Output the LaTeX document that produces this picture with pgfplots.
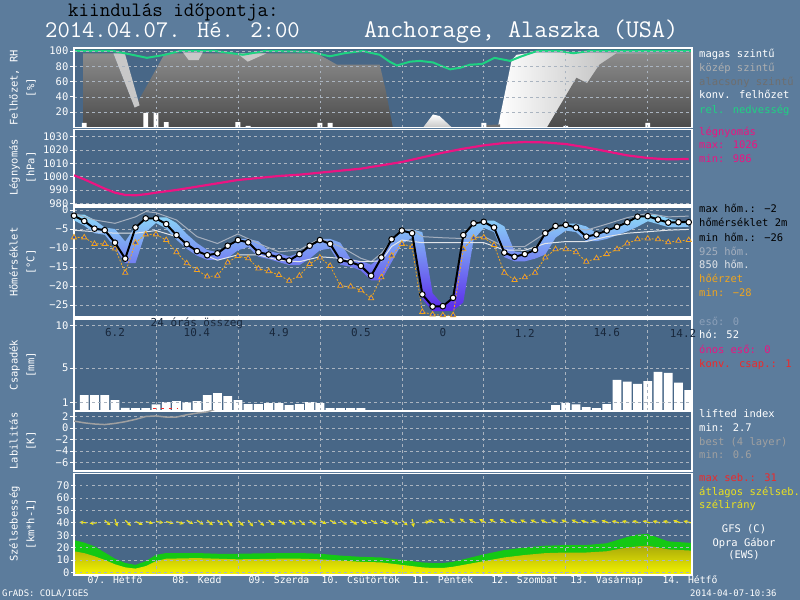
\documentclass[border=0pt]{standalone}
\usepackage{pgfplots}
\pgfplotsset{compat=1.18}
\usepackage{pgfplotstable}
\usetikzlibrary{arrows.meta}
\usepackage{fontspec}
\newfontfamily\legf{DejaVu Sans Mono}
\newcommand{\lfn}{\legf\fontsize{10.5}{12}\selectfont}
\newcommand{\lfd}{\legf\fontsize{9.8}{12}\selectfont}
\newcommand{\lfp}{\legf\fontsize{11}{12}\selectfont}
\newcommand{\lfl}{\legf\fontsize{10.5}{17}\selectfont}
\newcommand{\lfs}{\legf\fontsize{9}{10}\selectfont}
\definecolor{outerbg}{RGB}{92,124,156}
\definecolor{panelbg}{RGB}{72,103,135}
\definecolor{gridc}{RGB}{170,180,192}
\definecolor{rhgreen}{RGB}{30,210,130}
\definecolor{pmag}{RGB}{235,20,130}
\definecolor{c925}{RGB}{165,175,190}
\definecolor{c850}{RGB}{225,228,232}
\definecolor{orng}{RGB}{240,165,30}
\definecolor{triblue}{RGB}{40,80,200}
\definecolor{tb1}{RGB}{140,215,248}
\definecolor{tb2}{RGB}{30,140,240}
\definecolor{tb3}{RGB}{90,40,235}
\definecolor{midgray}{RGB}{175,175,175}
\definecolor{lowgray}{RGB}{110,110,110}
\definecolor{bestgray}{RGB}{160,160,160}
\definecolor{redc}{RGB}{240,40,40}
\definecolor{yel}{RGB}{235,225,30}
\definecolor{wgreen}{RGB}{20,200,20}
\definecolor{wyeltop}{RGB}{170,170,10}
\definecolor{wyelbot}{RGB}{245,245,0}
\definecolor{darknum}{RGB}{25,40,60}
\definecolor{ctop}{RGB}{140,140,140}
\definecolor{cbot}{RGB}{75,75,75}
\definecolor{light1}{RGB}{200,200,200}
\definecolor{rgray}{RGB}{150,150,150}
\definecolor{eso}{RGB}{140,160,185}

\pgfplotstableread{
d T O
7.000 -1.5 -7.2
7.125 -2.9 -7.2
7.250 -4.9 -8.9
7.375 -5.3 -8.9
7.500 -8.6 -10.1
7.625 -12.8 -16.5
7.750 -4.6 -8.6
7.875 -2.2 -6.4
8.000 -2.2 -6.4
8.125 -3.7 -7.9
8.250 -6.6 -11.1
8.375 -9.0 -14.0
8.500 -10.8 -15.8
8.625 -11.9 -17.5
8.750 -11.4 -17.3
8.875 -9.4 -13.8
9.000 -7.9 -12.1
9.125 -8.5 -12.7
9.250 -11.1 -15.4
9.375 -11.7 -16.1
9.500 -12.5 -17.1
9.625 -13.3 -18.6
9.750 -11.6 -17.3
9.875 -9.4 -14.2
10.000 -7.9 -12.5
10.125 -8.9 -14.7
10.250 -13.2 -19.9
10.375 -13.7 -20.1
10.500 -14.7 -21.1
10.625 -17.3 -23.2
10.750 -12.5 -17.7
10.875 -7.7 -12.0
11.000 -5.4 -8.9
11.125 -6.1 -9.7
11.250 -22.2 -26.8
11.375 -25.4 -27.5
11.500 -25.3 -27.7
11.625 -23.1 -27.7
11.750 -6.6 -10.3
11.875 -3.5 -7.3
12.000 -3.1 -7.2
12.125 -4.6 -9.2
12.250 -11.2 -16.5
12.375 -12.3 -18.4
12.500 -11.6 -17.7
12.625 -10.5 -16.5
12.750 -6.1 -12.5
12.875 -4.2 -10.3
13.000 -3.9 -10.3
13.125 -4.6 -11.1
13.250 -7.0 -13.6
13.375 -6.4 -12.7
13.500 -5.4 -11.6
13.625 -4.4 -10.3
13.750 -3.2 -8.8
13.875 -1.75 -7.7
14.000 -1.6 -7.5
14.125 -2.5 -7.7
14.250 -3.3 -8.5
14.375 -3.2 -8.1
14.500 -3.2 -7.9
}\tempdata

\pgfplotstableread{
d b
7.000 -1.2
7.125 -1.2
7.250 -2.6
7.375 -4.6
7.500 -5.0
7.625 -8.3
7.750 -4.3
7.875 -1.9
8.000 -1.9
8.125 -1.9
8.250 -3.4
8.375 -6.3
8.500 -8.7
8.625 -10.5
8.750 -11.1
8.875 -9.1
9.000 -7.6
9.125 -7.6
9.250 -8.2
9.375 -10.8
9.500 -11.4
9.625 -12.2
9.750 -11.3
9.875 -9.1
10.000 -7.6
10.125 -7.6
10.250 -8.6
10.375 -12.9
10.500 -13.4
10.625 -14.4
10.750 -12.2
10.875 -7.4
11.000 -5.1
11.125 -5.1
11.250 -5.8
11.375 -21.9
11.500 -25.0
11.625 -22.8
11.750 -6.3
11.875 -3.2
12.000 -2.8
12.125 -2.8
12.250 -4.3
12.375 -10.9
12.500 -11.3
12.625 -10.2
12.750 -5.8
12.875 -3.9
13.000 -3.6
13.125 -3.6
13.250 -4.3
13.375 -6.1
13.500 -5.1
13.625 -4.1
13.750 -2.9
13.875 -1.45
14.000 -1.3
14.125 -1.3
14.250 -2.2
14.375 -2.9
14.500 -2.9
14.500 -4.4
14.375 -4.5
14.250 -4.5
14.125 -3.7
14.000 -2.95
13.875 -4.4
13.750 -5.6
13.625 -6.6
13.500 -7.6
13.375 -8.2
13.250 -8.2
13.125 -5.8
13.000 -5.4
12.875 -7.3
12.750 -11.7
12.625 -12.8
12.500 -13.5
12.375 -13.5
12.250 -12.4
12.125 -5.8
12.000 -4.7
11.875 -7.8
11.750 -24.3
11.625 -26.5
11.500 -26.6
11.375 -26.6
11.250 -23.4
11.125 -7.3
11.000 -8.9
10.875 -13.7
10.750 -18.5
10.625 -18.5
10.500 -15.9
10.375 -14.9
10.250 -14.4
10.125 -10.1
10.000 -10.6
9.875 -12.8
9.750 -14.5
9.625 -14.5
9.500 -13.7
9.375 -12.9
9.250 -12.3
9.125 -9.7
9.000 -10.6
8.875 -12.6
8.750 -13.1
8.625 -13.1
8.500 -12.0
8.375 -10.2
8.250 -7.8
8.125 -4.9
8.000 -3.4
7.875 -5.8
7.750 -14.0
7.625 -14.0
7.500 -9.8
7.375 -6.5
7.250 -6.1
7.125 -4.1
7.000 -2.7
}\band

\pgfplotstableread{
d t
7.000 -0.9
7.250 -2.6
7.500 -3.5
7.750 -1.8
7.875 -0.4
8.000 -0.7
8.250 -2.6
8.500 -7.0
8.750 -8.8
9.000 -6.3
9.250 -8.8
9.500 -11.0
9.750 -10.5
10.000 -7.5
10.250 -9.6
10.500 -12.7
10.625 -13.6
10.750 -11.4
10.875 -7.9
11.000 -5.3
11.125 -5.1
11.250 -7.0
11.500 -7.3
11.750 -7.5
12.000 -7.0
12.250 -9.6
12.500 -9.6
12.750 -6.1
13.000 -4.0
13.250 -5.3
13.500 -3.7
13.750 -2.0
14.000 -0.9
14.250 -1.8
14.500 -1.6
}\tnk

\pgfplotstableread{
d t
7.000 -5.3
7.250 -5.7
7.500 -6.1
7.750 -6.1
8.000 -5.4
8.250 -7.0
8.500 -11.0
8.750 -13.2
9.000 -11.8
9.250 -11.8
9.500 -13.2
9.750 -13.6
10.000 -12.3
10.250 -12.7
10.500 -13.6
10.750 -13.4
10.875 -9.6
11.000 -7.9
11.250 -8.6
11.500 -8.6
11.750 -8.6
12.000 -8.6
12.250 -10.5
12.500 -10.6
12.750 -8.8
13.000 -8.3
13.250 -8.3
13.500 -7.0
13.750 -6.1
14.000 -5.7
14.250 -5.3
14.500 -5.1
}\tnf

\pgfplotstableread{
d p
7.000 1001
7.125 998
7.250 994.5
7.375 991
7.500 988
7.625 986.3
7.750 986
7.875 986.8
8.000 988
8.250 990
8.500 992.5
8.750 995
9.000 997.5
9.250 999
9.500 1000.5
9.750 1001.5
10.000 1003
10.250 1004.5
10.500 1006
10.750 1008.5
11.000 1011
11.250 1014.5
11.500 1018
11.750 1021
12.000 1023.5
12.250 1025.3
12.500 1026
12.750 1025.7
13.000 1024.5
13.250 1022
13.500 1019
13.750 1016
14.000 1014
14.250 1013
14.500 1013.3
}\pres

\pgfplotstableread{
d r
7.00 100
7.48 100
7.62 97
7.89 91
8.11 95
8.29 100
8.72 100
9.06 95
9.33 100
9.88 99
10.12 93
10.30 97
10.52 100
10.73 95
10.85 86
10.94 81
11.10 86
11.22 87
11.38 85
11.49 80
11.59 76
11.71 78
11.83 82
11.98 83
12.13 91
12.32 87
12.46 93
12.65 100
12.93 100
13.09 97
13.29 100
14.54 100
}\rh

\pgfplotstableread{
d v
7.125 1.86
7.250 1.86
7.375 1.86
7.500 1.27
7.625 0.37
7.750 0.33
7.875 0.33
8.000 0.76
8.125 1.04
8.250 1.16
8.375 1.04
8.500 1.16
8.625 1.86
8.750 2.10
8.875 1.75
9.000 1.27
9.125 0.80
9.250 0.80
9.375 0.92
9.500 0.92
9.625 0.69
9.750 0.80
9.875 1.04
10.000 0.92
10.125 0.33
10.250 0.33
10.375 0.33
10.500 0.33
12.875 0.69
13.000 0.92
13.125 0.76
13.250 0.45
13.375 0.33
13.500 0.80
13.625 3.63
13.750 3.43
13.875 3.16
14.000 3.50
14.125 4.57
14.250 4.45
14.375 3.31
14.500 2.45
}\prec

\pgfplotstableread{
d w
7.000 -2
7.000 26
7.125 24
7.250 21
7.375 16
7.500 11
7.625 7.5
7.750 6
7.875 9
8.000 14
8.125 15.6
8.500 15.6
8.750 15
9.000 15
9.500 15.6
9.750 15.6
10.000 15
10.250 13.5
10.500 12.5
10.750 12
11.000 10
11.250 8
11.375 7.5
11.500 7.5
11.625 8.5
11.750 10.5
12.000 14.5
12.250 18
12.500 20
12.750 21.5
13.000 22
13.250 22
13.500 23.5
13.750 28.5
13.875 30.5
14.000 31
14.125 28
14.250 25
14.540 23.7
14.540 -2
}\gust

\pgfplotstableread{
d w
7.000 -2
7.000 17
7.125 15.5
7.250 13
7.375 10
7.500 6.5
7.625 4
7.750 3
7.875 5
8.000 9
8.125 11
8.500 11.5
8.750 11
9.000 10.5
9.500 11
9.750 11
10.000 10.5
10.250 9.5
10.500 8.5
10.750 8
11.000 6
11.250 4
11.375 3.5
11.500 3.5
11.625 4.5
11.750 6
12.000 9
12.250 12
12.500 14
12.750 15.5
13.000 16
13.250 16
13.500 17
13.750 20
13.875 21
14.000 21.5
14.125 20
14.250 18.5
14.540 17.5
14.540 -2
}\avgw

\pgfplotstableread{
d y u v
7.030 40 -0.09 0.0
7.155 40 -0.09 0.5
7.280 40 -0.09 -0.5
7.375 42 0.07 -4.0
7.500 43 0.03 -6.0
7.625 42 0.07 -4.5
7.750 41 0.09 -2.5
7.875 41 0.09 -1.5
8.000 41 0.09 -1.0
8.125 41 0.09 -1.5
8.250 41 0.09 -2.0
8.375 42 0.08 -3.0
8.500 42 0.08 -3.5
8.625 42 0.07 -4.0
8.750 42 0.07 -4.0
8.875 42 0.06 -5.0
9.000 42 0.07 -4.5
9.125 42 0.06 -5.0
9.250 42 0.07 -4.5
9.375 42 0.07 -4.0
9.500 42 0.08 -3.5
9.625 42 0.08 -3.5
9.750 42 0.07 -4.0
9.875 42 0.08 -3.5
10.000 42 0.08 -3.0
10.125 42 0.08 -3.0
10.250 42 0.08 -3.5
10.375 42 0.08 -3.5
10.500 42 0.08 -3.0
10.625 42 0.08 -3.0
10.750 42 0.08 -3.0
10.875 42 0.08 -3.5
11.000 42 0.07 -4.0
11.125 43 0.02 -6.5
11.250 40 0.09 1.0
11.400 40 -0.08 2.5
11.525 40 -0.08 3.0
11.650 40 -0.07 3.5
11.775 40 -0.07 3.5
11.900 40 -0.08 3.0
12.025 40 -0.08 3.0
12.150 40 -0.08 3.0
12.275 40 -0.08 3.0
12.400 40 -0.08 2.5
12.525 40 -0.08 2.5
12.650 40 -0.08 2.5
12.775 40 -0.08 2.5
12.900 40 -0.08 2.5
13.025 40 -0.08 2.5
13.150 40 -0.08 2.5
13.275 40 -0.09 2.0
13.400 40 -0.09 2.0
13.525 40 -0.09 2.0
13.650 40 -0.09 1.5
13.775 40 -0.09 1.5
13.900 40 -0.09 1.5
14.025 40 -0.09 1.5
14.150 40 -0.09 1.5
14.275 40 -0.09 1.5
14.400 40 -0.09 2.0
14.525 40 -0.09 1.5
}\wdir

\pgfplotsset{
 met/.style={
  scale only axis, width=618bp, xmin=7, xmax=14.54, anchor=south west,
  axis background/.style={fill=panelbg},
  axis line style={white, line width=1.6bp},
  xtick={8,...,14}, xticklabels={},
  grid=major,
  major grid style={gridc, dash pattern=on 2.5bp off 3.5bp, line width=0.7bp},
  tick align=outside, tick pos=left, major tick length=4bp,
  xtick style={draw=none},
  ytick style={white, line width=0.8bp},
  yticklabel style={font=\lfn, text=white, inner sep=1.5bp},
  ylabel style={font=\lfl, text=white, align=center, at={(axis description cs:-0.0833,0.5)}, anchor=center},
  clip mode=individual,
 }
}

\begin{document}
\begin{tikzpicture}
\fill[outerbg] (0,0) rectangle (800bp,600bp);
\useasboundingbox (0,0) rectangle (800bp,600bp);

% Panel 1: clouds and RH
\begin{axis}[met, axis on top, at={(74bp,472.5bp)}, height=79.6bp, ymin=0, ymax=104,
 ytick={20,40,60,80,100}, yticklabels={20,40,60,80,100}, ylabel={Felhőzet, RH\\{[\%]}}]
\addplot[draw=none, top color=ctop, bottom color=cbot] coordinates {(7.11,0)(7.11,97)(7.48,97)(7.74,26)(8.11,97)(9.96,97)(10.21,82)(10.73,82)(10.80,50)(10.89,0)} --cycle;
\addplot[draw=none, fill=light1] coordinates {(7.48,97)(7.62,97)(7.80,29)(7.74,26)} --cycle;
\addplot[draw=none, fill=light1] coordinates {(8.33,98)(8.40,88)(8.52,88)(8.57,98)} --cycle;
\addplot[draw=none, fill=light1] coordinates {(8.99,97)(9.12,86)(9.35,97)} --cycle;
\addplot[draw=none, left color=white, right color=rgray] coordinates {(12.17,0)(12.34,88)(12.40,95)(12.60,98)(14.54,98)(14.54,0)} --cycle;
\addplot[draw=none, top color=ctop, bottom color=cbot] coordinates {(12.77,0)(13.13,65)(13.26,58)(13.41,82)(13.62,97)(14.54,97)(14.54,0)} --cycle;
\addplot[draw=none, top color=white, bottom color=light1] coordinates {(11.26,0)(11.38,17)(11.46,15)(11.61,0)} --cycle;
\addplot[draw=none, fill=lowgray] coordinates {(11.98,0)(11.98,3)(12.20,4)(12.20,0)} --cycle;
\addplot[ybar, bar width=0.06, bar shift=0pt, fill=white, draw=none] coordinates {(7.125,6)(7.875,19)(8.0,19)(8.125,7)(9.0,7)(9.125,2)(10.0,6)(10.125,6)(12.0,6)(13.0,2)(14.0,6)};
\addplot[rhgreen, line width=2bp] table[x=d,y=r] \rh;
\end{axis}

% Panel 2: pressure
\begin{axis}[met, at={(74bp,394.7bp)}, height=75.9bp, ymin=978.5, ymax=1035.5,
 ytick={980,990,...,1030}, yticklabels={980,990,1000,1010,1020,1030}, ylabel={Légnyomás\\{[hPa]}}]
\addplot[pmag, line width=2.2bp] table[x=d,y=p] \pres;
\end{axis}

% Panel 3: temperature
\begin{axis}[met, at={(74bp,282.8bp)}, height=110.2bp, ymin=-28.2, ymax=0.8,
 ytick={-25,-20,...,0}, yticklabels={−25,−20,−15,−10,−5,0}, ylabel={Hőmérséklet\\{[°C]}}]
\addplot[draw=none, top color=tb1, middle color=tb2, bottom color=tb3] table[x=d,y=b] \band --cycle;
\addplot[c925, line width=1bp] table[x=d,y=t] \tnk;
\addplot[c850, line width=1bp] table[x=d,y=t] \tnf;
\addplot[orng, line width=0.8bp, dash pattern=on 2bp off 1.5bp, mark=triangle*, mark size=3bp, mark options={solid, fill=triblue, draw=orng, line width=0.8bp}] table[x=d,y=O] \tempdata;
\addplot[black, line width=2bp, mark=*, mark size=2.8bp, mark options={fill=white, draw=black, line width=1bp}] table[x=d,y=T] \tempdata;
\end{axis}

% Panel 4: precipitation
\begin{axis}[met, axis on top, at={(74bp,189bp)}, height=92bp, ymin=0, ymax=10.76,
 ytick={1,5,10}, yticklabels={1,5,10}, ylabel={Csapadék\\{[mm]}}]
\addplot[ybar, bar width=0.108, bar shift=0pt, fill=white, draw=none] table[x=d,y=v] \prec;
\addplot[redc, line width=1.5bp, dash pattern=on 3bp off 5bp] coordinates {(7.96,0.3)(8.27,0.3)};
\end{axis}
% 24-hour sums (text drawn above the grid)
\begin{scope}[every node/.style={font=\lfp, text=darknum, inner sep=0}]
\node at (196.9bp,276.5bp) {24 órás összeg};
\node at (115bp,267bp) {6.2};
\node at (196.9bp,267bp) {10.4};
\node at (278.9bp,267bp) {4.9};
\node at (360.9bp,267bp) {0.5};
\node at (442.8bp,267bp) {0};
\node at (524.8bp,267bp) {1.2};
\node at (606.7bp,267bp) {14.6};
\node at (683bp,267bp) {14.2};
\end{scope}

% Panel 5: stability
\begin{axis}[met, at={(74bp,129bp)}, height=60bp, ymin=-7.48, ymax=2.96,
 ytick={-6,-4,-2,0,2}, yticklabels={−6,−4,−2,0,2}, ylabel={Labilitás\\{[K]}}]
\addplot[bestgray, line width=1.5bp] coordinates {(7.000,1.2)(7.125,0.9)(7.250,0.7)(7.375,0.6)(7.500,0.8)(7.625,1.1)(7.750,1.5)(7.875,2.0)(8.000,2.1)(8.125,1.9)(8.250,1.9)(8.375,2.3)(8.500,2.6)(8.625,2.8)(8.750,3.4)};
\end{axis}

% Panel 6: wind
\begin{axis}[met, axis on top, at={(74bp,25.2bp)}, height=101.5bp, ymin=-2, ymax=80,
 ytick={0,10,...,70}, yticklabels={0,10,20,30,40,50,60,70}, ylabel={Szélsebesség\\{[km*h-1]}},
 xtick style={gridc, line width=0.8bp}, major tick length=3bp]
\addplot[draw=none, fill=wgreen] table[x=d,y=w] \gust --cycle;
\addplot[draw=none, top color=wyeltop, bottom color=wyelbot] table[x=d,y=w] \avgw --cycle;
\addplot[yel, line width=1.2bp, quiver={u=\thisrow{u}, v=\thisrow{v}}, -{Stealth[length=4bp,width=4bp]}] table[x=d,y=y] \wdir;
\end{axis}
% day labels
\begin{scope}[every node/.style={font=\lfd, text=white, inner sep=0, anchor=base}]
\node at (115bp,17bp) {07. Hétfő};
\node at (196.9bp,17bp) {08. Kedd};
\node at (278.9bp,17bp) {09. Szerda};
\node at (360.9bp,17bp) {10. Csütörtök};
\node at (442.8bp,17bp) {11. Péntek};
\node at (524.8bp,17bp) {12. Szombat};
\node at (606.7bp,17bp) {13. Vasárnap};
\node at (690bp,17bp) {14. Hétfő};
\end{scope}

% Titles
\node[anchor=base west, inner sep=0, text=black, font=\ttfamily\fontsize{20.5}{24}\selectfont] at (68bp,583.5bp) {kiindulás időpontja:};
\node[anchor=base west, inner sep=0, text=white, font=\ttfamily\fontsize{24}{26}\selectfont] at (45bp,562.5bp) {2014.04.07. Hé. 2:00};
\node[anchor=base west, inner sep=0, text=white, font=\ttfamily\fontsize{25.5}{27}\selectfont] at (364bp,562.5bp) {Anchorage, Alaszka (USA)};

% Legend
\begin{scope}[every node/.style={anchor=west, inner sep=0, font=\lfn, text height=7.5bp, text depth=2bp}]
\node[text=white] at (699bp,545bp) {magas szintű};
\node[text=midgray] at (699bp,531bp) {közép szintű};
\node[text=lowgray] at (699bp,517.3bp) {alacsony szintű};
\node[text=white] at (699bp,504bp) {konv. felhőzet};
\node[text=rhgreen] at (699bp,489.3bp) {rel. nedvesség};
\node[text=pmag] at (699bp,467.7bp) {légnyomás};
\node[text=pmag] at (699bp,454bp) {max: 1026};
\node[text=pmag] at (699bp,440bp) {min: 986};
\node[text=black] at (699bp,390bp) {max hőm.: −2};
\node[text=black] at (699bp,376bp) {hőmérséklet 2m};
\node[text=black] at (699bp,361.7bp) {min hőm.: −26};
\node[text=c925] at (699bp,347.7bp) {925 hőm.};
\node[text=c850] at (699bp,334bp) {850 hőm.};
\node[text=orng] at (699bp,320bp) {hőérzet};
\node[text=orng] at (699bp,306bp) {min: −28};
\node[text=eso] at (699bp,277.3bp) {eső: 0};
\node[text=white] at (699bp,264bp) {hó: 52};
\node[text=pmag] at (699bp,249.3bp) {ónos eső: 0};
\node[text=redc] at (699bp,235.7bp) {konv. csap.: 1};
\node[text=white] at (699bp,185bp) {lifted index};
\node[text=white] at (699bp,171bp) {min: 2.7};
\node[text=bestgray] at (699bp,157.7bp) {best (4 layer)};
\node[text=bestgray] at (699bp,144bp) {min: 0.6};
\node[text=redc] at (699bp,121.7bp) {max seb.: 31};
\node[text=yel] at (699bp,107.7bp) {átlagos szélseb.};
\node[text=yel] at (699bp,94bp) {szélirány};
\end{scope}
\begin{scope}[every node/.style={anchor=center, inner sep=0, font=\lfn, text=white, text height=7.5bp, text depth=2bp}]
\node at (744bp,70bp) {GFS (C)};
\node at (744bp,56bp) {Opra Gábor};
\node at (744bp,44.3bp) {(EWS)};
\end{scope}
\node[anchor=west, inner sep=0, font=\lfs, text=white] at (2bp,6bp) {GrADS: COLA/IGES};
\node[anchor=west, inner sep=0, font=\lfs, text=white] at (690bp,6.5bp) {2014-04-07-10:36};
\end{tikzpicture}
\end{document}
